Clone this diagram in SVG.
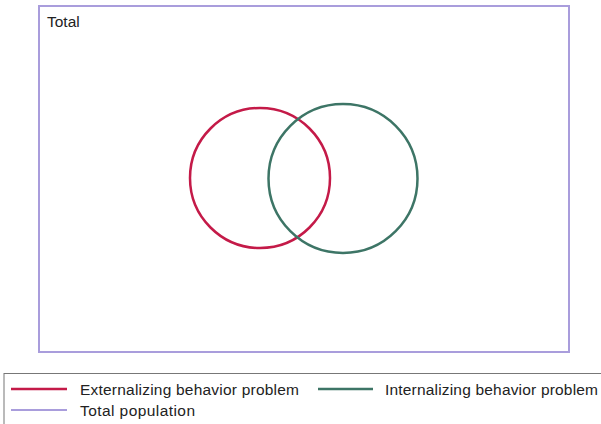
<svg xmlns="http://www.w3.org/2000/svg" width="601" height="424" viewBox="0 0 601 424">
<style>
text{font-family:"Liberation Sans",Arial,sans-serif;font-size:15.5px;fill:#222}
.ext{stroke:#c41a48;stroke-width:2.5;fill:none}
.int{stroke:#3d7566;stroke-width:2.5;fill:none}
.tot{stroke:#a99ddc;stroke-width:2;fill:none}
</style>
<rect width="601" height="424" fill="#fff"/>
<g id="total">
<rect class="tot" x="39" y="6" width="530" height="346"/>
<text x="47" y="27">Total</text>
</g>
<g id="externalizing">
<circle class="ext" cx="260" cy="178" r="70"/>
</g>
<g id="internalizing">
<circle class="int" cx="343" cy="178.5" r="74.5"/>
</g>
<g id="legend">
<rect x="4" y="373.5" width="610" height="60" fill="none" stroke="#777" stroke-width="1"/>
<line class="ext" x1="11" y1="389" x2="67" y2="389"/>
<text x="80" y="395" textLength="219">Externalizing behavior problem</text>
<line class="int" x1="318" y1="389" x2="373" y2="389"/>
<text x="385" y="395" textLength="213">Internalizing behavior problem</text>
<line class="tot" x1="11" y1="410" x2="67" y2="410"/>
<text x="80" y="416" textLength="115">Total population</text>
</g>
</svg>
